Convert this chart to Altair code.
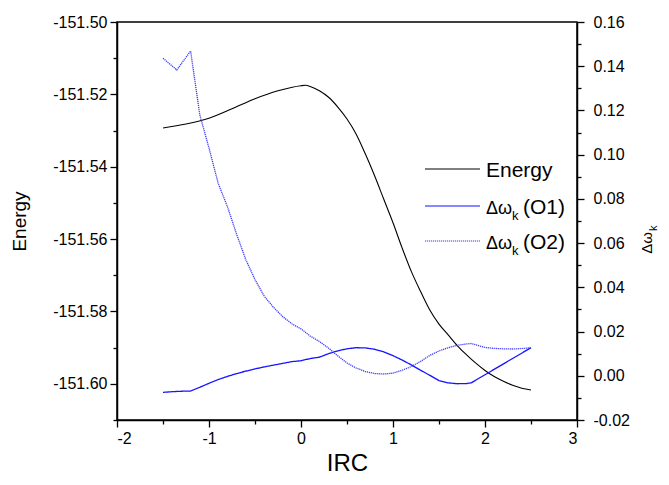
import altair as alt
import pandas as pd

# ---------------- data ----------------
irc_energy = [-1.5, -1.25, -1.0, -0.75, -0.5, -0.25, 0.0, 0.05, 0.1, 0.2, 0.3, 0.4, 0.5,
              0.6, 0.7, 0.8, 0.9, 1.0, 1.1, 1.2, 1.3, 1.4, 1.5, 1.6, 1.7, 1.8,
              1.9, 2.0, 2.1, 2.2, 2.3, 2.4, 2.5]
energy = [-151.5293, -151.5282, -151.5266, -151.5240, -151.5212, -151.5190, -151.5176,
          -151.5175, -151.5178, -151.5190, -151.5208, -151.5235, -151.5268,
          -151.5310, -151.5365, -151.5425, -151.5490, -151.5555, -151.5625,
          -151.5690, -151.5745, -151.5796, -151.5835, -151.5865, -151.5895,
          -151.5920, -151.5943, -151.5963, -151.5980, -151.5993, -151.6004,
          -151.6012, -151.6017]

irc_o1 = [-1.5, -1.4, -1.3, -1.2, -1.1, -1.0, -0.9, -0.8, -0.7, -0.6, -0.5, -0.4,
          -0.3, -0.2, -0.1, 0.0, 0.1, 0.2, 0.3, 0.4, 0.5, 0.6, 0.7, 0.8, 0.9,
          1.0, 1.1, 1.2, 1.3, 1.4, 1.5, 1.6, 1.7, 1.8, 1.85, 2.5]
o1 = [-0.0075, -0.0072, -0.0070, -0.0069, -0.0052, -0.0034, -0.0017, -0.0003,
      0.0010, 0.0021, 0.0031, 0.0040, 0.0048, 0.0056, 0.0064, 0.0068, 0.0078,
      0.0084, 0.0100, 0.0113, 0.0122, 0.0127, 0.0126, 0.0120, 0.0108, 0.0091,
      0.0071, 0.0049, 0.0025, 0.0002, -0.0022, -0.0032, -0.0036, -0.0035,
      -0.0032, 0.0127]

irc_o2 = [-1.5, -1.35, -1.2, -1.1, -1.0, -0.9, -0.8, -0.7, -0.6, -0.5, -0.4, -0.3,
          -0.2, -0.1, 0.0, 0.1, 0.2, 0.3, 0.4, 0.5, 0.6, 0.7, 0.8, 0.9, 1.0,
          1.1, 1.2, 1.3, 1.4, 1.5, 1.6, 1.7, 1.8, 1.85, 1.9, 2.0, 2.1, 2.2,
          2.3, 2.4, 2.5]
o2 = [0.1436, 0.1383, 0.1469, 0.1180, 0.1030, 0.0870, 0.0765, 0.0640, 0.0525,
      0.0435, 0.0360, 0.0310, 0.0268, 0.0235, 0.0212, 0.0180, 0.0155, 0.0125,
      0.0090, 0.0058, 0.0035, 0.0019, 0.0010, 0.0008, 0.0012, 0.0025, 0.0042,
      0.0065, 0.0092, 0.0112, 0.0127, 0.0138, 0.0144, 0.0146, 0.0140, 0.0128,
      0.0124, 0.0122, 0.0121, 0.0123, 0.0127]

x_ticks = [-2 + 0.5 * i for i in range(11)]
left_ticks = [round(-151.61 + 0.01 * i, 2) for i in range(12)]
right_ticks = [round(-0.02 + 0.01 * i, 2) for i in range(19)]

FONT = "Liberation Sans"
BLUE = "#1414ff"
BLUE2 = "#3a3aff"

df_e = pd.DataFrame({"IRC": irc_energy, "Energy": energy})
df_w = pd.concat([
    pd.DataFrame({"IRC": irc_o1, "w": o1, "series": "O1"}),
    pd.DataFrame({"IRC": irc_o2, "w": o2, "series": "O2"}),
])

x_axis = alt.Axis(
    values=x_ticks, title="IRC", titleFontSize=24, titleFont=FONT,
    titleFontWeight="normal", titleY=50, titleBaseline="alphabetic",
    labelExpr="datum.value % 1 == 0 ? '' + datum.value : ''",
    tickSize={"condition": {"test": "datum.value % 1 == 0", "value": 7}, "value": 4},
    grid=False, labelPadding=3,
)
x_enc = alt.X("IRC:Q", scale=alt.Scale(domain=[-2, 3], nice=False, zero=False), axis=x_axis)

energy_line = alt.Chart(df_e).mark_line(color="black", strokeWidth=1.1, interpolate="monotone").encode(
    x=x_enc,
    y=alt.Y("Energy:Q",
            scale=alt.Scale(domain=[-151.61, -151.50], nice=False, zero=False),
            axis=alt.Axis(
                orient="left", values=left_ticks, title="Energy", titleFontSize=19,
                titleFont=FONT, titleFontWeight="normal", titleX=-98, titleY=199,
                titleAngle=270, titleAlign="center", titleBaseline="middle",
                labelExpr="abs(round(datum.value*100)) % 2 == 0 ? replace(format(datum.value, '.2f'), '\u2212', '-') : ''",
                tickSize={"condition": {"test": "abs(round(datum.value*100)) % 2 == 0", "value": 7}, "value": 4},
                grid=False, labelPadding=3,
            )),
)

w_lines = alt.Chart(df_w).mark_line(strokeWidth=1.3).encode(
    x=x_enc,
    y=alt.Y("w:Q",
            scale=alt.Scale(domain=[-0.02, 0.16], nice=False, zero=False),
            axis=alt.Axis(
                orient="right", values=right_ticks, title=None,
                labelExpr="abs(round(datum.value*100)) % 2 == 0 ? replace(format(datum.value, '.2f'), '\u2212', '-') : ''",
                tickSize={"condition": {"test": "abs(round(datum.value*100)) % 2 == 0", "value": 7}, "value": 4},
                grid=False, labelPadding=9,
            )),
    color=alt.Color("series:N", scale=alt.Scale(domain=["O1", "O2"], range=[BLUE, BLUE2]), legend=None),
    strokeDash=alt.StrokeDash("series:N", scale=alt.Scale(domain=["O1", "O2"], range=[[1, 0], [1.2, 0.8]]), legend=None),
)

one = pd.DataFrame({"a": [0]})

def rule(y, color, dash):
    return alt.Chart(one).mark_rule(color=color, strokeWidth=1.2, strokeDash=dash).encode(
        x=alt.value(308), x2=alt.value(363), y=alt.value(y))

def txt(s, x, y, size, angle=0, align="left"):
    return alt.Chart(one).mark_text(text=s, font=FONT, fontSize=size, align=align,
                                    baseline="alphabetic", angle=angle, color="black").encode(
        x=alt.value(x), y=alt.value(y))

legend = [
    rule(147, "black", [1, 0]),
    rule(184, BLUE, [1, 0]),
    rule(219, BLUE2, [1.2, 0.8]),
    txt("Energy", 369, 154.5, 21),
    txt("\u0394\u03c9", 369, 192, 18),
    txt("k", 395, 198, 13),
    txt("(O1)", 406, 192, 21),
    txt("\u0394\u03c9", 369, 226.5, 18),
    txt("k", 395, 232.5, 13),
    txt("(O2)", 406, 226.5, 21),
    # right axis title  Δω_k (rotated)
    txt("\u0394\u03c9", 535, 221, 15, angle=270, align="center"),
    txt("k", 540, 209, 11, angle=270, align="left"),
]

chart = alt.layer(energy_line, w_lines, *legend).resolve_scale(
    y="independent", color="independent", strokeDash="independent"
).properties(
    width=460, height=398,
    background="white",
    autosize=alt.AutoSizeParams(type="none"),
    padding={"left": 109, "top": 14, "right": 84, "bottom": 57},
).configure_view(
    stroke="black", strokeWidth=1.5
).configure_axis(
    domainColor="black", domainWidth=1.5, tickColor="black", tickWidth=1.3,
    labelFont=FONT, labelFontSize=16, labelColor="black", titleColor="black",
)

chart.save("out.html", embed_options={"renderer": "svg", "actions": False})
